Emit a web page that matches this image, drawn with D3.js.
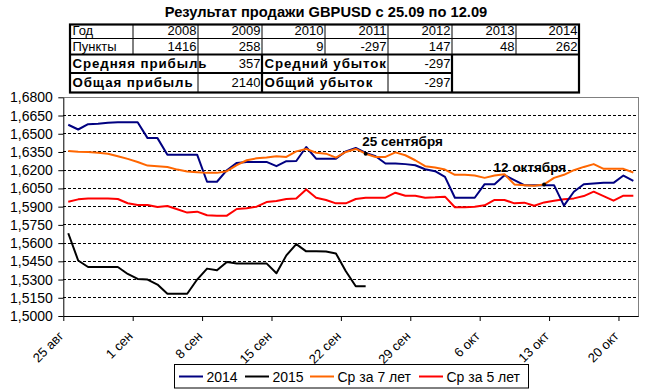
<!DOCTYPE html>
<html>
<head>
<meta charset="utf-8">
<script src="https://cdn.jsdelivr.net/npm/d3@7"></script>
<style>
  html, body { margin: 0; padding: 0; background: #fff; }
  svg { display: block; font-family: "Liberation Sans", Arial, sans-serif; }
</style>
</head>
<body>
<svg id="chart" width="650" height="391"></svg>
<script>
// ---------- DATA ----------
const titleText = "Результат продажи GBPUSD с 25.09 по 12.09";
const years = ["2008", "2009", "2010", "2011", "2012", "2013", "2014"];
const points = [1416, 258, 9, -297, 147, 48, 262];
const rowLabels = ["Год", "Пункты"];
const summaryLabels = ["Средняя прибыль", "Общая прибыль"];
const summaryValues = [357, 2140];
const lossLabels = ["Средний убыток", "Общий убыток"];
const lossValues = [-297, -297];

const startDate = "2015-08-25";
const endDate = "2015-10-22";
const tickLabels = ["25 авг", "1 сен", "8 сен", "15 сен", "22 сен", "29 сен", "6 окт", "13 окт", "20 окт"];
const yTicks = [1.5, 1.515, 1.53, 1.545, 1.56, 1.575, 1.59, 1.605, 1.62, 1.635, 1.65, 1.665, 1.68];

const series2014 = [1.6574,1.6535,1.6579,1.6582,1.6590,1.6595,1.6595,1.6595,1.6464,1.6464,
  1.6328,1.6328,1.6328,1.6328,1.6105,1.6105,1.6200,1.6260,1.6268,1.6268,
  1.6268,1.6233,1.6274,1.6276,1.6391,1.6295,1.6295,1.6295,1.6355,1.6383,
  1.6342,1.6315,1.6255,1.6255,1.6250,1.6241,1.6208,1.6192,1.6145,1.5973,
  1.5973,1.5973,1.6085,1.6085,1.6159,1.6118,1.6077,1.6077,1.6077,1.6077,
  1.5908,1.6023,1.6085,1.6091,1.6096,1.6096,1.6156,1.6113];
const series2015 = [1.5681,1.5457,1.5403,1.5403,1.5403,1.5403,1.5346,1.5305,1.5300,1.5259,
  1.5183,1.5183,1.5183,1.5300,1.5390,1.5376,1.5444,1.5433,1.5433,1.5433,
  1.5433,1.5352,1.5499,1.5592,1.5532,1.5532,1.5530,1.5515,1.5368,1.5245,1.5245];
const avg7 = [1.6358,1.6352,1.6350,1.6344,1.6336,1.6315,1.6293,1.6268,1.6238,1.6233,
  1.6227,1.6205,1.6189,1.6184,1.6178,1.6178,1.6192,1.6241,1.6282,1.6298,
  1.6304,1.6315,1.6309,1.6355,1.6375,1.6344,1.6336,1.6304,1.6350,1.6375,
  1.6336,1.6309,1.6309,1.6347,1.6323,1.6282,1.6233,1.6222,1.6205,1.6162,
  1.6162,1.6156,1.6137,1.6156,1.6167,1.6083,1.6077,1.6072,1.6083,1.6137,
  1.6162,1.6200,1.6227,1.6250,1.6211,1.6211,1.6211,1.6181];
const avg5 = [1.5941,1.5960,1.5968,1.5968,1.5968,1.5963,1.5928,1.5914,1.5914,1.5897,
  1.5905,1.5878,1.5851,1.5859,1.5829,1.5826,1.5826,1.5881,1.5886,1.5900,
  1.5938,1.5946,1.5963,1.5968,1.6042,1.5974,1.5955,1.5927,1.5927,1.5963,
  1.5974,1.5974,1.5974,1.6015,1.5990,1.5990,1.5974,1.5977,1.5982,1.5895,
  1.5895,1.5900,1.5911,1.5955,1.5955,1.5927,1.5933,1.5908,1.5935,1.5949,
  1.5960,1.5968,1.5987,1.6023,1.5987,1.5949,1.5990,1.5990];

const seriesNames = ["2014", "2015", "Ср за 7 лет", "Ср за 5 лет"];
const seriesColors = ["#000080", "#000000", "#FF6600", "#FF0000"];
const annotations = [{label: "25 сентября", index: 30}, {label: "12 октября", index: 48}];

// ---------- LAYOUT ----------
const svg = d3.select("#chart");
const FONT = '"Liberation Sans", Arial, sans-serif';
const plot = {left: 63.3, right: 638.3, top: 97.3, bottom: 316};

const parse = d3.utcParse("%Y-%m-%d");
const d0 = parse(startDate), d1 = parse(endDate);
const days = d3.utcDay.range(d0, d1);
const tickDates = d3.utcDay.range(d0, d1, 7);

const x = d3.scaleUtc().domain([d0, d1]).range([plot.left, plot.right]);
const y = d3.scaleLinear().domain([1.5, 1.68]).range([plot.bottom, plot.top]);
const px = i => x(d3.utcHour.offset(days[i], 12));

// Title
svg.append("text").attr("x", 326).attr("y", 17).attr("text-anchor", "middle")
  .style("font-family", FONT).style("font-size", "14.7px").style("font-weight", "bold")
  .text(titleText);

// ---------- TABLE ----------
const colX = [70, 133, 198, 262, 325, 388, 452, 516, 579];
const rowY = [24.5, 38.5, 54.5, 73, 92.5];
const tbl = svg.append("g");
const thin = (x1, y1, x2, y2) => tbl.append("line").attr("x1", x1).attr("y1", y1).attr("x2", x2).attr("y2", y2)
  .attr("stroke", "#000").attr("stroke-width", 1);
const thick = (x1, y1, x2, y2) => tbl.append("line").attr("x1", x1).attr("y1", y1).attr("x2", x2).attr("y2", y2)
  .attr("stroke", "#000").attr("stroke-width", 2.2);
thin(colX[0], rowY[1], colX[8], rowY[1]);
for (let c = 1; c < 8; c++) thin(colX[c], rowY[0], colX[c], rowY[2]);
thin(colX[2], rowY[2], colX[2], rowY[4]);
thin(colX[5], rowY[2], colX[5], rowY[4]);
thick(colX[0], rowY[2], colX[8], rowY[2]);
thick(colX[0], rowY[3], colX[6], rowY[3]);
thick(colX[3], rowY[2], colX[3], rowY[4]);
thick(colX[6], rowY[2], colX[6], rowY[4]);
tbl.append("rect").attr("x", colX[0]).attr("y", rowY[0]).attr("width", colX[8] - colX[0])
  .attr("height", rowY[4] - rowY[0]).attr("fill", "none").attr("stroke", "#000").attr("stroke-width", 2.2);

const cellText = (txt, xx, yy, anchor, bold) => tbl.append("text").attr("x", xx).attr("y", yy)
  .attr("text-anchor", anchor).style("font-family", FONT).style("font-size", bold ? "13.3px" : "13px")
  .style("letter-spacing", bold ? "0.9px" : "0px")
  .style("font-weight", bold ? "bold" : "normal").text(txt);
const base = [35, 50.5, 68, 87];
cellText(rowLabels[0], colX[0] + 2.5, base[0], "start", false);
cellText(rowLabels[1], colX[0] + 2.5, base[1], "start", false);
years.forEach((yv, i) => cellText(yv, colX[i + 2] - 1.5, base[0], "end", false));
points.forEach((pv, i) => cellText(String(pv), colX[i + 2] - 1.5, base[1], "end", false));
summaryLabels.forEach((l, i) => cellText(l, colX[0] + 2.5, base[2 + i], "start", true));
summaryValues.forEach((v, i) => cellText(String(v), colX[3] - 1.5, base[2 + i], "end", false));
lossLabels.forEach((l, i) => cellText(l, colX[3] + 2.5, base[2 + i], "start", true));
lossValues.forEach((v, i) => cellText(String(v), colX[6] - 1.5, base[2 + i], "end", false));

// ---------- PLOT ----------
svg.append("g").selectAll("line").data(yTicks.slice(1, -1)).join("line")
  .attr("x1", plot.left).attr("x2", plot.right)
  .attr("y1", d => y(d)).attr("y2", d => y(d))
  .attr("stroke", "#000").attr("stroke-width", 1).attr("stroke-dasharray", "3,2")
  .attr("shape-rendering", "crispEdges");
svg.append("path")
  .attr("d", `M${plot.left},${plot.top}H${plot.right}V${plot.bottom}`)
  .attr("fill", "none").attr("stroke", "#808080").attr("stroke-width", 1).attr("shape-rendering", "crispEdges");

const line = d3.line().x((d, i) => px(i)).y(d => y(d));
const allSeries = [series2014, series2015, avg7, avg5];
const drawOrder = [3, 1, 0, 2];
drawOrder.forEach(k => {
  svg.append("path").datum(allSeries[k]).attr("d", line)
    .attr("fill", "none").attr("stroke", seriesColors[k]).attr("stroke-width", 2)
    .attr("stroke-linejoin", "round");
});

// axes
const fmt = v => d3.format(".4f")(v).replace(".", ",");
const yAxis = svg.append("g").attr("transform", `translate(${plot.left},0)`)
  .call(d3.axisLeft(y).tickValues(yTicks).tickFormat(fmt).tickSize(5).tickPadding(5.5).tickSizeOuter(0));
yAxis.selectAll("text").style("font-family", FONT).style("font-size", "14px").attr("fill", "#000");
yAxis.selectAll("line, path").attr("stroke", "#000");

const xAxis = svg.append("g").attr("transform", `translate(0,${plot.bottom})`)
  .call(d3.axisBottom(x).tickValues(tickDates).tickFormat((d, i) => tickLabels[i]).tickSize(5).tickSizeOuter(0));
xAxis.selectAll("line, path").attr("stroke", "#000");
xAxis.selectAll("text")
  .style("font-family", FONT).style("font-size", "13px").attr("fill", "#000")
  .attr("text-anchor", "end").attr("y", 0).attr("dy", 0)
  .attr("transform", "translate(0.5,21) rotate(-45)");

// annotations
annotations.forEach((a, j) => {
  const cx = px(a.index), cy = y(avg7[a.index]);
  svg.append("circle").attr("cx", cx).attr("cy", cy).attr("r", 2).attr("fill", "#000");
  svg.append("text").attr("x", cx - 3.5 - (j === 1 ? 47 : 0)).attr("y", j === 0 ? cy - 8 : cy - 12.5)
    .style("font-family", FONT).style("font-size", "13.5px").style("font-weight", "bold")
    .text(a.label);
});

// ---------- LEGEND ----------
const lg = svg.append("g");
lg.append("rect").attr("x", 174.5).attr("y", 364.5).attr("width", 354).attr("height", 23.5)
  .attr("fill", "#fff").attr("stroke", "#000").attr("stroke-width", 1);
const legendLineX = [179, 245, 310, 419];
seriesNames.forEach((n, i) => {
  lg.append("line").attr("x1", legendLineX[i]).attr("x2", legendLineX[i] + 24)
    .attr("y1", 376.5).attr("y2", 376.5).attr("stroke", seriesColors[i]).attr("stroke-width", 2);
  lg.append("text").attr("x", legendLineX[i] + 27.5).attr("y", 381.5)
    .style("font-family", FONT).style("font-size", "14px").text(n);
});
</script>
</body>
</html>
